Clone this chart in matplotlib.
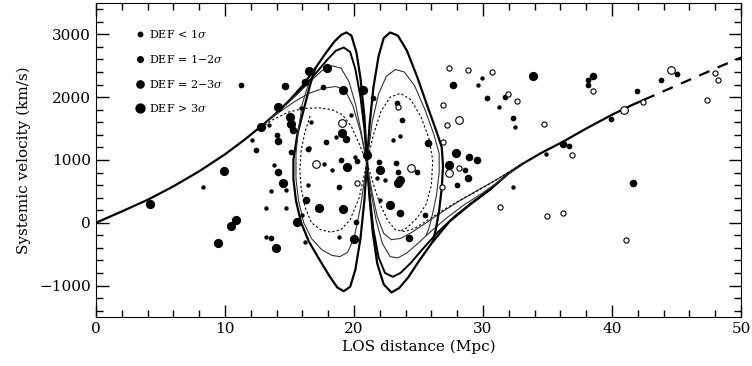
import matplotlib
matplotlib.use('Agg')
import matplotlib.pyplot as plt
from matplotlib.lines import Line2D

plt.rcParams['font.family'] = 'DejaVu Serif'
plt.rcParams['mathtext.fontset'] = 'dejavuserif'

# ---- model curves ----
# S-shaped branches: line from origin -> near-side peak -> cluster -> far-side trough -> back to line
s1_x = [0, 2, 4, 6, 8, 10, 11.5, 13, 14, 15, 16, 17, 17.8, 18.5, 19.0, 19.4, 19.8, 20.2, 20.5, 20.8,
        21.0, 21.2, 21.45, 21.8, 22.3, 22.9, 23.5, 24.2, 25.0, 26.0, 27.4, 29.0, 30.5, 32.0, 33.0,
        34.5, 36.2, 38.0, 40.0, 41.5, 42.5]
s1_v = [0, 180, 365, 580, 820, 1090, 1320, 1570, 1750, 1950, 2180, 2460, 2700, 2890, 2990, 3030,
        2980, 2700, 2300, 1700, 1000, 400, -150, -650, -980, -1110, -1040, -870, -620, -330, 20,
        290, 520, 790, 930, 1110, 1290, 1500, 1720, 1870, 1960]
ext_x = [42.5, 44, 45.5, 47, 48.5, 50]
ext_v = [1960, 2095, 2230, 2365, 2500, 2630]

s2_x = [14.0, 15.0, 16.0, 17.0, 17.9, 18.6, 19.2, 19.7, 20.1, 20.5, 20.8, 21.0, 21.2, 21.5, 21.9,
        22.4, 23.0, 23.6, 24.4, 25.4, 26.5, 27.8, 29.2, 30.6, 32.0, 33.0]
s2_v = [1750, 1940, 2140, 2370, 2590, 2740, 2790, 2720, 2450, 2000, 1500, 1000, 450, -100, -550,
        -800, -860, -800, -640, -400, -150, 100, 330, 540, 790, 930]

s3_x = [13.5, 14.5, 15.5, 16.5, 17.5, 18.3, 19.0, 19.6, 20.1, 20.6, 21.0, 21.3, 21.7, 22.2, 22.8,
        23.4, 24.1, 25.0, 26.0, 27.2, 28.5, 30.0, 31.5, 33.0]
s3_v = [1660, 1840, 2030, 2230, 2420, 2500, 2460, 2250, 1900, 1400, 950, 500, 50, -330, -540,
        -560, -480, -320, -130, 80, 280, 480, 700, 930]

s4_x = [13.0, 14.2, 15.4, 16.5, 17.6, 18.6, 19.3, 19.9, 20.5, 21.0, 21.4, 21.8, 22.3, 22.9, 23.6,
        24.5, 25.6, 26.8, 28.2, 29.6, 31.0, 32.5, 33.5]
s4_v = [1570, 1760, 1930, 2060, 2140, 2170, 2110, 1870, 1450, 950, 480, 100, -170, -270, -250,
        -150, 0, 170, 350, 520, 680, 870, 990]

s5_x = [12.5, 13.7, 14.9, 16.1, 17.3, 18.3, 19.1, 19.8, 20.4, 21.0, 21.5, 22.0, 22.6, 23.2, 23.9,
        24.7, 25.7, 26.9, 28.2, 29.6, 31.0, 32.5, 33.5]
s5_v = [1480, 1640, 1760, 1820, 1830, 1800, 1720, 1530, 1260, 950, 620, 300, 40, -110, -140,
        -90, 40, 200, 360, 510, 680, 870, 990]

# mirrored loops: near-side trough -> cluster -> far-side peak
m1_x = [17.0, 16.6, 16.1, 15.6, 15.3, 15.3, 15.5, 15.9, 16.5, 17.3, 18.1, 18.7, 19.2, 19.7, 20.1,
        20.5, 20.8, 21.0, 21.2, 21.5, 21.9, 22.3, 22.8, 23.4, 24.1, 24.9, 25.7, 26.4, 26.8, 26.9,
        26.8, 26.6, 26.35, 26.1]
m1_v = [2460, 2200, 1800, 1400, 1000, 700, 350, 0, -300, -580, -850, -1030, -1090, -1020, -750,
        -250, 350, 950, 1550, 2150, 2650, 2940, 3030, 2980, 2740, 2320, 1850, 1450, 1200, 900,
        550, 200, -100, -300]

m3_x = [16.5, 16.0, 15.7, 15.5, 15.5, 15.7, 16.1, 16.7, 17.5, 18.3, 18.9, 19.5, 20.0, 20.5, 21.0,
        21.4, 21.9, 22.5, 23.2, 23.9, 24.7, 25.5, 26.2, 26.6, 26.6, 26.4, 26.1, 25.85, 25.6]
m3_v = [2230, 1900, 1500, 1100, 700, 350, 0, -250, -430, -520, -540, -470, -250, 250, 950,
        1600, 2050, 2330, 2440, 2400, 2180, 1800, 1400, 1100, 800, 450, 150, -60, -200]

m5_x = [16.6, 16.2, 15.9, 15.8, 15.9, 16.2, 16.7, 17.4, 18.2, 19.0, 19.7, 20.4, 21.0, 21.5, 22.1,
        22.8, 23.6, 24.4, 25.2, 25.8, 26.1, 26.0, 25.6, 24.9, 24.1, 23.6]
m5_v = [1700, 1450, 1150, 850, 550, 250, 0, -110, -150, -110, 50, 400, 950, 1400, 1780,
        2000, 2060, 1960, 1680, 1350, 1000, 600, 300, 80, -80, -130]

# ---- galaxies: distance (Mpc), velocity (km/s), class ----
# class 1..4 = DEF <1, 1-2, 2-3, >3 sigma ; 0 = open small, 5 = open large
gal_d = [11.2, 14.65, 14.1, 12.8, 13.4, 12.1, 12.4, 14.0, 14.1, 15.0, 15.1, 15.3, 15.1, 9.9, 8.3,
         4.2, 13.8, 14.1, 14.5, 14.7, 13.6, 13.2, 14.7, 10.85, 10.5, 9.45, 13.2, 13.6, 13.95, 16.5,
         16.2, 17.9, 17.6, 15.9, 18.6, 19.1, 17.8, 19.1, 19.8, 20.1, 16.2, 15.6, 16.0, 16.3, 16.4,
         17.05, 17.7, 18.3, 19.0, 19.45, 20.2, 16.4, 18.8, 20.2, 17.3, 19.15, 20.15, 18.8, 20.0,
         27.4, 28.8, 30.7, 27.7, 29.9, 29.6, 33.9, 30.3, 31.7, 31.9, 32.6, 31.2, 26.9, 27.2, 28.1,
         32.3, 32.5, 26.9, 27.9, 28.9, 29.5, 19.15, 20.7, 21.5, 19.4, 23.3, 23.4, 23.7, 23.6, 23.0,
         25.7, 21.0, 21.9, 23.25, 22.0, 23.4, 24.4, 24.9, 23.6, 23.4, 21.8, 22.4, 27.4, 28.1, 28.6,
         27.4, 28.8, 26.8, 28.0, 32.3, 31.3, 22.8, 23.6, 22.0, 25.5, 24.3, 38.1, 38.1, 38.5, 38.5,
         34.7, 39.9, 41.9, 42.4, 40.9, 43.8, 44.6, 45.0, 48.0, 48.2, 47.4, 36.2, 36.7, 36.9, 34.9,
         41.6, 34.95, 36.2, 41.1, 16.7, 16.5]
gal_v = [2190, 2175, 1840, 1520, 1560, 1320, 1160, 1400, 1300, 1680, 1580, 1480, 1130, 830, 570,
         300, 920, 810, 640, 520, 510, 240, 240, 50, -50, -330, -220, -250, -400, 2410,
         2240, 2460, 2160, 1820, 1370, 1430, 1290, 1590, 1710, 1050, -300, 15, 130, 365, 1170,
         940, 940, 840, 1000, 890, 980, 600, 570, 630, 240, 220, 15, -220, -255,
         2460, 2440, 2400, 2200, 2310, 2200, 2340, 1990, 2000, 2050, 1940, 1840, 1870, 1560, 1630,
         1660, 1520, 1290, 1110, 1050, 1000, 2110, 2120, 1980, 1330, 1900, 1840, 1630, 1380, 1320,
         1270, 1080, 970, 950, 840, 810, 870, 810, 680, 630, 710, 680, 920, 870, 840,
         790, 710, 570, 600, 570, 250, 285, 160, 365, 130, -240, 2270, 2190, 2330, 2100,
         1570, 1650, 2100, 1920, 1790, 2270, 2440, 2370, 2380, 2270, 1950, 1250, 1220, 1080, 1100,
         640, 100, 150, -280, 1600, 1190]
gal_c = [2, 3, 4, 4, 1, 1, 2, 2, 3, 4, 4, 3, 2, 4, 1,
         4, 1, 3, 4, 1, 1, 1, 1, 4, 4, 4, 1, 2, 4, 4,
         3, 4, 2, 1, 1, 4, 2, 5, 1, 1, 1, 4, 1, 3, 2,
         5, 1, 1, 2, 4, 2, 1, 2, 0, 4, 4, 2, 1, 4,
         0, 0, 0, 3, 1, 1, 4, 2, 2, 0, 0, 1, 0, 0, 5,
         2, 1, 0, 4, 3, 3, 4, 4, 2, 3, 2, 0, 2, 1, 1,
         3, 4, 2, 2, 4, 2, 5, 2, 4, 4, 1, 1, 4, 0, 2,
         5, 3, 0, 2, 1, 0, 4, 3, 1, 2, 3, 2, 2, 3, 0,
         0, 2, 2, 0, 5, 2, 5, 2, 0, 0, 0, 3, 2, 0, 1,
         3, 0, 0, 0, 1, 1]

legend_labels = ['DEF < 1$\\sigma$', 'DEF = 1$-$2$\\sigma$', 'DEF = 2$-$3$\\sigma$', 'DEF > 3$\\sigma$']

sizes = {0: 14, 1: 10, 2: 17, 3: 30, 4: 44, 5: 30}

fig = plt.figure(figsize=(7.52, 3.66), dpi=100)
ax = fig.add_axes([0.1277, 0.134, 0.8577, 0.858])

ax.plot(s1_x, s1_v, color='black', lw=1.6)
ax.plot(ext_x, ext_v, color='black', lw=1.6, dashes=(5, 4))
ax.plot(s2_x, s2_v, color='black', lw=1.4)
ax.plot(s3_x, s3_v, color='#333333', lw=0.8)
ax.plot(s4_x, s4_v, color='#333333', lw=0.8)
ax.plot(s5_x, s5_v, color='black', lw=0.8, dashes=(2, 2))
ax.plot(m1_x, m1_v, color='black', lw=1.6)
ax.plot(m3_x, m3_v, color='#333333', lw=0.8)
ax.plot(m5_x, m5_v, color='black', lw=0.8, dashes=(2, 2))

for c in [1, 2, 3, 4]:
    xs = [d for d, k in zip(gal_d, gal_c) if k == c]
    ys = [v for v, k in zip(gal_v, gal_c) if k == c]
    ax.scatter(xs, ys, s=sizes[c], color='black', linewidths=0, zorder=3)
for c in [0, 5]:
    xs = [d for d, k in zip(gal_d, gal_c) if k == c]
    ys = [v for v, k in zip(gal_v, gal_c) if k == c]
    ax.scatter(xs, ys, s=sizes[c], facecolors='white', edgecolors='black', linewidths=0.8, zorder=3)

handles = [Line2D([], [], ls='', marker='o', color='black', markersize=ms)
           for ms in [3.2, 4.0, 5.2, 6.4]]
ax.legend(handles, legend_labels, loc='upper left', bbox_to_anchor=(0.047, 0.945), frameon=False,
          fontsize=8, labelspacing=1.15, handletextpad=0.3, handlelength=1.0, borderpad=0.2)

ax.set_xlim(0, 50)
ax.set_ylim(-1500, 3500)
ax.set_xticks([0, 10, 20, 30, 40, 50])
ax.set_xticks(range(0, 51, 2), minor=True)
ax.set_yticks([-1000, 0, 1000, 2000, 3000])
ax.set_yticks(range(-1400, 3500, 200), minor=True)
ax.tick_params(which='both', direction='in', top=True, right=True, labelsize=11)
ax.tick_params(which='major', length=9, width=1)
ax.tick_params(which='minor', length=5, width=1)
ax.set_xlabel('LOS distance (Mpc)', fontsize=11, labelpad=3)
ax.set_ylabel('Systemic velocity (km/s)', fontsize=11, labelpad=6)

fig.savefig('out.png', dpi=100)
